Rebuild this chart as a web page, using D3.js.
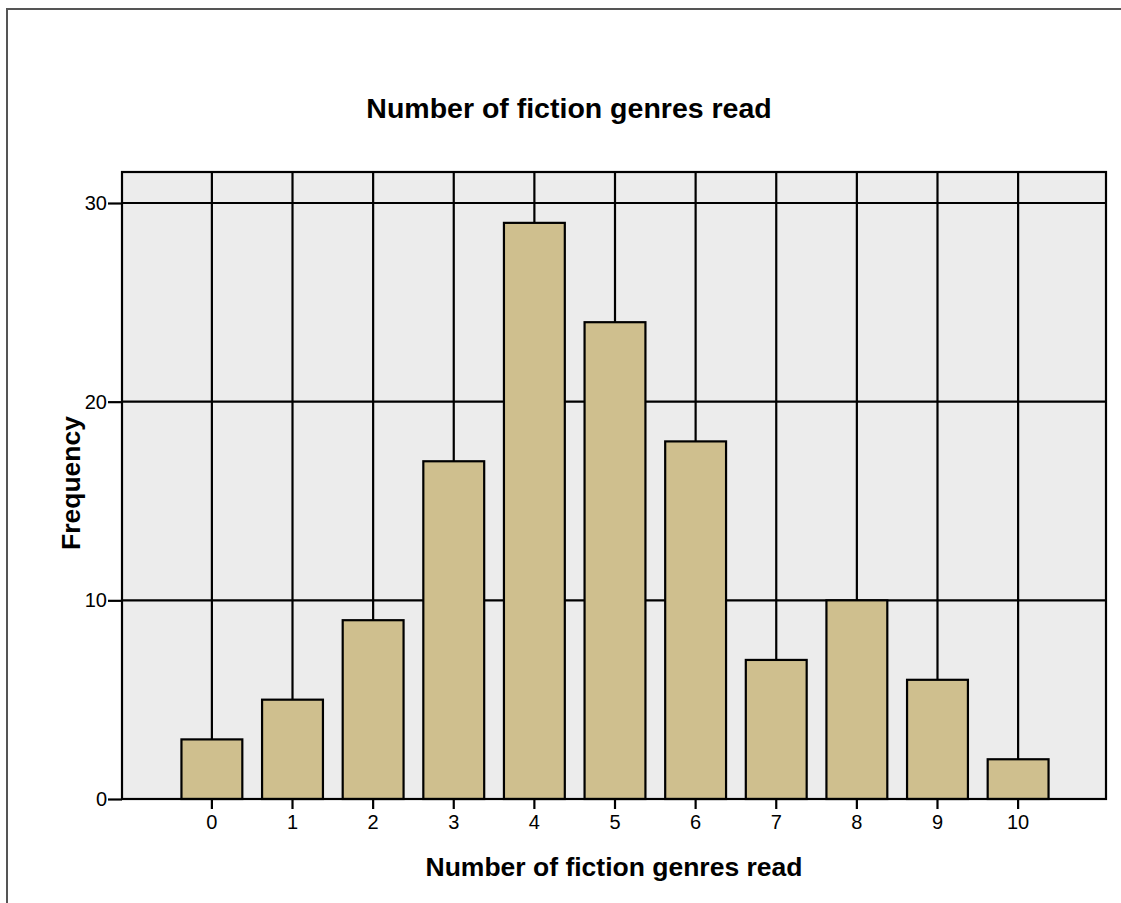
<!DOCTYPE html>
<html><head><meta charset="utf-8">
<script src="https://d3js.org/d3.v7.min.js"></script>
<style>
body{margin:0;background:#fff;}
svg text{font-family:"Liberation Sans",Arial,sans-serif;fill:#000;}
</style></head>
<body><svg id="chart" width="1121" height="903"></svg>
<script>
const categories = ["0","1","2","3","4","5","6","7","8","9","10"];
const frequency = [3,5,9,17,29,24,18,7,10,6,2];
const yTicks = [0,10,20,30];
const title = "Number of fiction genres read";
const xTitle = "Number of fiction genres read";
const yTitle = "Frequency";

const svg = d3.select("#chart");
const L = 122, R = 1106, T = 172, B = 799;

// outer frame (top and left edges visible)
svg.append("path").attr("d", `M7,903 L7,9 L1121,9`).attr("fill","none")
  .attr("stroke","#555").attr("stroke-width",2);

const x = d3.scaleBand().domain(categories).range([L,R]).paddingInner(0.245).paddingOuter(0.725);
const y = d3.scaleLinear().domain([0,30]).range([B,203]);

// plot background
svg.append("rect").attr("x",L).attr("y",T).attr("width",R-L).attr("height",B-T)
  .attr("fill","#ececec");

// grid
svg.append("g").selectAll("line").data(yTicks.filter(d=>d>0)).join("line")
  .attr("x1",L).attr("x2",R).attr("y1",d=>y(d)).attr("y2",d=>y(d))
  .attr("stroke","#000").attr("stroke-width",2.2);
svg.append("g").selectAll("line").data(categories).join("line")
  .attr("x1",d=>x(d)+x.bandwidth()/2+1).attr("x2",d=>x(d)+x.bandwidth()/2+1)
  .attr("y1",T).attr("y2",B).attr("stroke","#000").attr("stroke-width",2.2);

// bars
svg.append("g").selectAll("rect").data(frequency).join("rect")
  .attr("x",(d,i)=>x(categories[i])+1).attr("width",x.bandwidth())
  .attr("y",d=>y(d)).attr("height",d=>B-y(d))
  .attr("fill","#cfbf8e").attr("stroke","#000").attr("stroke-width",2.2);

// plot border
svg.append("rect").attr("x",L).attr("y",T).attr("width",R-L).attr("height",B-T)
  .attr("fill","none").attr("stroke","#000").attr("stroke-width",2.2);

// axes
const yAxis = svg.append("g").attr("transform",`translate(${L},0)`)
  .call(d3.axisLeft(y).tickValues(yTicks).tickSize(14).tickPadding(1));
yAxis.select(".domain").remove();
yAxis.selectAll("line").attr("stroke","#000").attr("stroke-width",2.2);
yAxis.selectAll("text").style("font-size","20px").style("font-family","Liberation Sans, Arial, sans-serif").attr("fill","#000");

const xAxis = svg.append("g").attr("transform",`translate(1,${B})`)
  .call(d3.axisBottom(x).tickSize(10).tickPadding(6));
xAxis.select(".domain").remove();
xAxis.selectAll("line").attr("stroke","#000").attr("stroke-width",2.2);
xAxis.selectAll("text").style("font-size","20px").style("font-family","Liberation Sans, Arial, sans-serif").attr("fill","#000");

// titles
svg.append("text").attr("x",569).attr("y",118).attr("text-anchor","middle")
  .style("font-size","28.5px").attr("font-weight","bold").text(title);
svg.append("text").attr("x",614).attr("y",876).attr("text-anchor","middle")
  .style("font-size","26.5px").attr("font-weight","bold").text(xTitle);
svg.append("text").attr("transform","translate(80,483) rotate(-90)").attr("text-anchor","middle")
  .style("font-size","26.5px").attr("font-weight","bold").text(yTitle);
</script></body></html>
